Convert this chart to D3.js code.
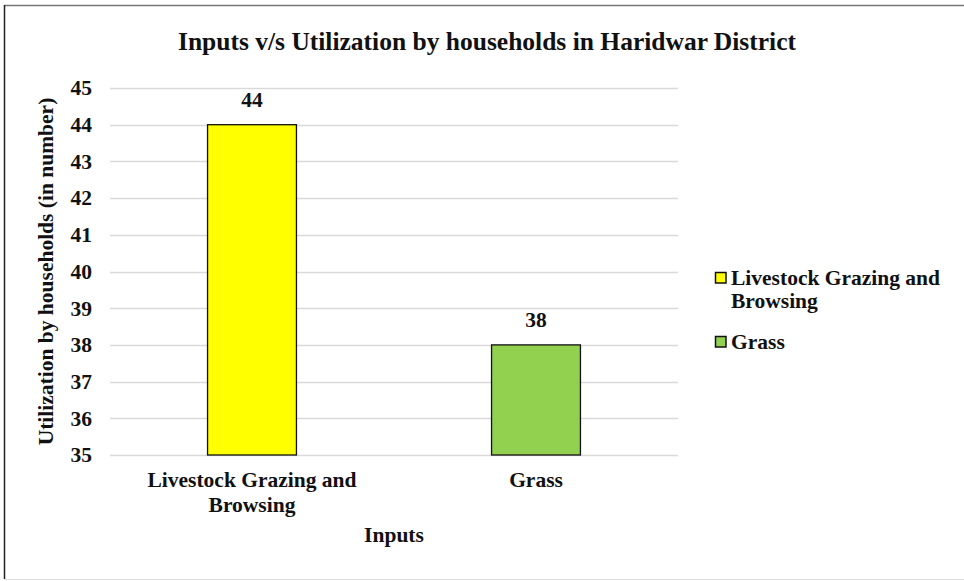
<!DOCTYPE html>
<html><head><meta charset="utf-8">
<script src="https://cdn.jsdelivr.net/npm/d3@7"></script>
<style>body{margin:0;background:#fff}svg{display:block}</style>
</head><body>
<svg id="c" width="964" height="581"></svg>
<script>
const categories = ["Livestock Grazing and Browsing", "Grass"];
const categoryLines = [["Livestock Grazing and", "Browsing"], ["Grass"]];
const values = [44, 38];
const colors = ["#FFFF00", "#92D050"];
const yTicks = [35, 36, 37, 38, 39, 40, 41, 42, 43, 44, 45];
const titleText = "Inputs v/s Utilization by households in Haridwar District";
const xTitle = "Inputs";
const yTitle = "Utilization by households (in number)";

const svg = d3.select("#c");
const font = "'Liberation Serif','Times New Roman',serif";
const fs = 21.5;
svg.append("rect").attr("width",964).attr("height",581).attr("fill","#fff");
svg.append("line").attr("x1",4.5).attr("x2",964).attr("y1",5.5).attr("y2",5.5).attr("stroke","#777").attr("stroke-width",1.5);
svg.append("line").attr("x1",4.5).attr("x2",4.5).attr("y1",5).attr("y2",579).attr("stroke","#222").attr("stroke-width",1.5);
svg.append("line").attr("x1",4.5).attr("x2",964).attr("y1",579.5).attr("y2",579.5).attr("stroke","#ddd").attr("stroke-width",1);

const L=110, R=678, T=88, B=455;
const x = d3.scaleBand().domain(categories).range([L,R]).paddingInner(0.687).paddingOuter(0.3435);
const y = d3.scaleLinear().domain([35,45]).range([B,T]);

svg.append("text").attr("x",487).attr("y",50).attr("text-anchor","middle")
  .attr("font-family",font).attr("font-weight","bold").attr("font-size",25.5).attr("fill","#111")
  .text(titleText);

// grid
svg.append("g").selectAll("line").data(yTicks).join("line")
  .attr("x1",L).attr("x2",R).attr("y1",d=>Math.round(y(d))+0.5).attr("y2",d=>Math.round(y(d))+0.5)
  .attr("stroke","#d9d9d9").attr("stroke-width",1.3);

// y axis labels
const ya = svg.append("g").attr("transform",`translate(${L-18},0)`)
  .call(d3.axisLeft(y).tickValues(yTicks).tickSize(0).tickPadding(0));
ya.select(".domain").remove();
ya.selectAll("text").attr("font-family",font).attr("font-weight","bold").attr("font-size",fs).attr("fill","#111");

// bars
svg.append("g").selectAll("rect").data(values).join("rect")
  .attr("x",(d,i)=>x(categories[i])).attr("width",x.bandwidth())
  .attr("y",d=>y(d)).attr("height",d=>y(35)-y(d))
  .attr("fill",(d,i)=>colors[i]).attr("stroke","#111").attr("stroke-width",1.3);

// value labels
svg.append("g").selectAll("text").data(values).join("text")
  .attr("x",(d,i)=>x(categories[i])+x.bandwidth()/2).attr("y",d=>y(d)-18)
  .attr("text-anchor","middle").attr("font-family",font).attr("font-weight","bold").attr("font-size",fs).attr("fill","#111")
  .text(d=>d);

// x labels
categories.forEach((c,i)=>{
  const t = svg.append("text").attr("x",x(c)+x.bandwidth()/2).attr("y",487)
    .attr("text-anchor","middle").attr("font-family",font).attr("font-weight","bold").attr("font-size",fs).attr("fill","#111");
  categoryLines[i].forEach((ln,j)=>t.append("tspan").attr("x",x(c)+x.bandwidth()/2).attr("dy",j?25:0).text(ln));
});

svg.append("text").attr("x",(L+R)/2).attr("y",542).attr("text-anchor","middle")
  .attr("font-family",font).attr("font-weight","bold").attr("font-size",fs).attr("fill","#111").text(xTitle);

svg.append("text").attr("transform",`translate(53,${(T+B)/2}) rotate(-90)`).attr("text-anchor","middle")
  .attr("font-family",font).attr("font-weight","bold").attr("font-size",fs).attr("fill","#111").text(yTitle);

// legend
const legY = [272, 336];
const legLines = [["Livestock Grazing and","Browsing"],["Grass"]];
categories.forEach((c,i)=>{
  svg.append("rect").attr("x",715.5).attr("y",legY[i]+0.5).attr("width",10.5).attr("height",10.5)
    .attr("fill",colors[i]).attr("stroke","#111").attr("stroke-width",1.5);
  const t = svg.append("text").attr("x",731).attr("y",legY[i]+13)
    .attr("font-family",font).attr("font-weight","bold").attr("font-size",fs).attr("fill","#111");
  legLines[i].forEach((ln,j)=>t.append("tspan").attr("x",731).attr("dy",j?23:0).text(ln));
});
</script>
</body></html>
